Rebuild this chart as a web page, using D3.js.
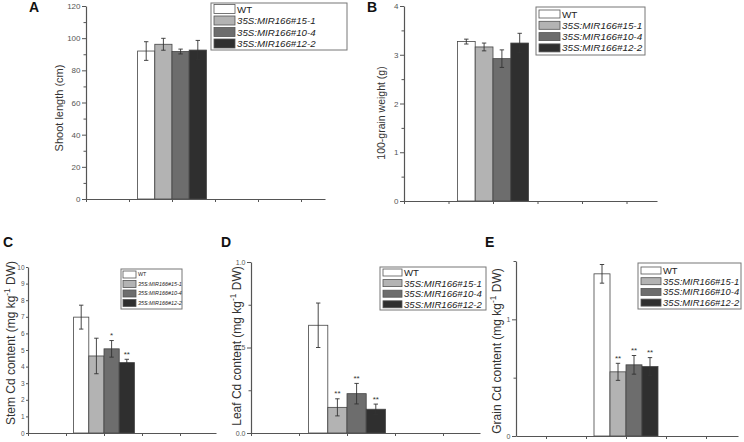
<!DOCTYPE html>
<html>
<head>
<meta charset="utf-8">
<script src="https://cdn.jsdelivr.net/npm/d3@7"></script>
<style>
  body { margin: 0; background: #fff; }
  svg { display: block; font-family: "Liberation Sans", Arial, sans-serif; }
</style>
</head>
<body>
<svg id="fig" width="744" height="442"></svg>
<script>
// lines shown in every panel
const lines = ["WT", "35S:MIR166#15-1", "35S:MIR166#10-4", "35S:MIR166#12-2"];

// A - shoot length (cm)
const shootLength = [92, 96.2, 91.7, 92.6];
const shootLengthErr = [5.8, 3.7, 1.5, 6];
// B - 100-grain weight (g)
const grainWeight = [3.27, 3.16, 2.92, 3.24];
const grainWeightErr = [0.05, 0.08, 0.18, 0.2];
// C - stem Cd content
const stemCd = [6.98, 4.64, 5.07, 4.24];
const stemCdErr = [0.72, 1.07, 0.5, 0.2];
const stemSig = ["", "", "*", "**"];
// D - leaf Cd content
const leafCd = [0.63, 0.15, 0.23, 0.139];
const leafCdErr = [0.13, 0.05, 0.06, 0.03];
const leafSig = ["", "**", "**", "**"];
// E - grain Cd content
const grainCd = [1.39, 0.55, 0.61, 0.595];
const grainCdErr = [0.08, 0.073, 0.08, 0.077];
const grainSig = ["", "**", "**", "**"];

const fills = ["#ffffff", "#b3b3b3", "#6d6d6d", "#2f2f2f"];
const axisColor = "#555";

const panels = [
  { letter: "A", lx: 29, ly: 12, title: "Shoot length (cm)", sup: false, tx: 63, ty: 108, tsize: 11,
    values: shootLength, errors: shootLengthErr, sig: null,
    yMax: 120, major: 20, minor: 10, fmt: d3.format("d"), tickFont: 8, tickLen: 4,
    x0: 86, x1: 325, unit: 43, tick0: 0, center: 2, yTop: 6, yBot: 199,
    legend: { x: 211, y: 3, w: 136, h: 47, sx: 214, sw: 21, sh: 9, r0: 4.5, dy: 11.5, font: 9.7 } },
  { letter: "B", lx: 367, ly: 12, title: "100-grain weight (g)", sup: false, tx: 385, ty: 113, tsize: 10.5,
    values: grainWeight, errors: grainWeightErr, sig: null,
    yMax: 4, major: 1, minor: 0.5, fmt: d3.format("d"), tickFont: 8, tickLen: 4,
    x0: 404, x1: 657, unit: 44.5, tick0: 0, center: 2, yTop: 6, yBot: 201,
    legend: { x: 536, y: 7, w: 109, h: 48, sx: 539, sw: 21, sh: 8, r0: 10, dy: 11.3, font: 9.9 } },
  { letter: "C", lx: 3, ly: 247, title: "Stem Cd content (mg kg", sup: true, tx: 15, ty: 343, tsize: 12,
    values: stemCd, errors: stemCdErr, sig: stemSig,
    yMax: 10, major: 1, minor: null, fmt: d3.format("d"), tickFont: 6.5, tickLen: 2,
    x0: 28, x1: 216, unit: 38, tick0: 0, center: 2, yTop: 267, yBot: 433,
    legend: { x: 121, y: 269, w: 61, h: 40, sx: 123, sw: 13, sh: 7, r0: 271, dy: 9.5, font: 5.4 } },
  { letter: "D", lx: 221, ly: 247, title: "Leaf Cd content (mg kg", sup: true, tx: 241, ty: 346, tsize: 12,
    values: leafCd, errors: leafCdErr, sig: leafSig,
    yMax: 1, major: 0.5, minor: 0.25, fmt: d3.format(".1f"), tickFont: 7, tickLen: 4,
    x0: 251, x1: 480, unit: 48, tick0: 0, center: 2, yTop: 262, yBot: 433,
    legend: { x: 380, y: 267, w: 106, h: 43, sx: 383, sw: 19, sh: 7, r0: 269, dy: 10.6, font: 9.6 } },
  { letter: "E", lx: 485, ly: 247, title: "Grain Cd content (mg kg", sup: true, tx: 501, ty: 351, tsize: 12,
    values: grainCd, errors: grainCdErr, sig: grainSig,
    yMax: 1.5, major: 1, minor: 0.5, fmt: d3.format("d"), tickFont: 7, tickLen: 4,
    x0: 516, x1: 738, unit: 40, tick0: 0.75, center: 2.75, yTop: 261, yBot: 436,
    legend: { x: 638, y: 263, w: 103, h: 46, sx: 641, sw: 20, sh: 7, r0: 267, dy: 10.7, font: 9.4 } }
];

const svg = d3.select("#fig");

function styleAxis(sel) {
  sel.select(".domain").attr("stroke", axisColor).attr("stroke-width", 1.2);
  sel.selectAll(".tick line").attr("stroke", axisColor).attr("stroke-width", 1);
  sel.selectAll(".tick text").attr("fill", "#555");
}

panels.forEach(p => {
  const g = svg.append("g");
  const x = d3.scaleLinear().domain([0, (p.x1 - p.x0) / p.unit]).range([p.x0, p.x1]);
  const y = d3.scaleLinear().domain([0, p.yMax]).range([p.yBot, p.yTop]);
  const bw = 0.4;
  const barX = i => x(p.center + (i - 2) * bw);
  const barMid = i => x(p.center + (i - 1.5) * bw);

  // bars
  g.selectAll("rect.bar").data(p.values).join("rect")
    .attr("class", "bar")
    .attr("x", (d, i) => barX(i))
    .attr("width", x(bw) - x(0))
    .attr("y", d => y(d))
    .attr("height", d => y(0) - y(d))
    .attr("fill", (d, i) => fills[i])
    .attr("stroke", "#444")
    .attr("stroke-width", 0.8);

  // error bars
  const cap = 2.2;
  const eg = g.selectAll("g.err").data(p.values).join("g").attr("class", "err")
    .attr("stroke", "#333").attr("stroke-width", 0.9);
  eg.append("line")
    .attr("x1", (d, i) => barMid(i)).attr("x2", (d, i) => barMid(i))
    .attr("y1", (d, i) => y(d + p.errors[i])).attr("y2", (d, i) => y(d - p.errors[i]));
  eg.append("line")
    .attr("x1", (d, i) => barMid(i) - cap).attr("x2", (d, i) => barMid(i) + cap)
    .attr("y1", (d, i) => y(d + p.errors[i])).attr("y2", (d, i) => y(d + p.errors[i]));
  eg.append("line")
    .attr("x1", (d, i) => barMid(i) - cap).attr("x2", (d, i) => barMid(i) + cap)
    .attr("y1", (d, i) => y(d - p.errors[i])).attr("y2", (d, i) => y(d - p.errors[i]));

  // significance marks
  if (p.sig) {
    g.selectAll("text.sig").data(p.values).join("text")
      .attr("class", "sig")
      .attr("x", (d, i) => barMid(i))
      .attr("y", (d, i) => y(d + p.errors[i]) - 2.5)
      .attr("text-anchor", "middle")
      .attr("font-size", 8)
      .attr("fill", "#333")
      .text((d, i) => p.sig[i]);
  }

  // y axis
  const majors = d3.range(0, p.yMax + 1e-9, p.major);
  const ya = g.append("g").attr("transform", `translate(${p.x0},0)`)
    .call(d3.axisLeft(y).tickValues(majors).tickFormat(p.fmt).tickSize(p.tickLen).tickSizeOuter(0).tickPadding(1.5));
  ya.selectAll(".tick text").attr("font-size", p.tickFont);
  styleAxis(ya);
  if (p.minor) {
    const minors = d3.range(0, p.yMax + 1e-9, p.minor)
      .filter(v => Math.abs(v / p.major - Math.round(v / p.major)) > 1e-6);
    const ym = g.append("g").attr("transform", `translate(${p.x0},0)`)
      .call(d3.axisLeft(y).tickValues(minors).tickFormat("").tickSize(2.5).tickSizeOuter(0));
    ym.select(".domain").remove();
    styleAxis(ym);
  }

  // x axis
  const xTicks = d3.range(p.tick0, x.domain()[1], 1);
  const xa = g.append("g").attr("transform", `translate(0,${p.yBot})`)
    .call(d3.axisBottom(x).tickValues(xTicks).tickFormat("").tickSize(3).tickSizeOuter(0));
  styleAxis(xa);

  // axis title
  const t = g.append("text")
    .attr("transform", `translate(${p.tx},${p.ty}) rotate(-90)`)
    .attr("text-anchor", "middle")
    .attr("font-size", p.tsize)
    .attr("fill", "#333");
  t.append("tspan").text(p.title);
  if (p.sup) {
    t.append("tspan").attr("font-size", p.tsize * 0.7).attr("dy", -p.tsize * 0.45).text("-1");
    t.append("tspan").attr("dy", p.tsize * 0.45).text(" DW)");
  }

  // panel letter
  g.append("text").attr("x", p.lx).attr("y", p.ly)
    .attr("font-size", 14).attr("font-weight", "bold").attr("fill", "#111")
    .text(p.letter);

  // legend
  const L = p.legend;
  const lg = g.append("g");
  lg.append("rect").attr("x", L.x).attr("y", L.y).attr("width", L.w).attr("height", L.h)
    .attr("fill", "#fff").attr("stroke", "#777").attr("stroke-width", 1);
  const rows = lg.selectAll("g.row").data(lines).join("g").attr("class", "row")
    .attr("transform", (d, i) => `translate(0,${L.r0 + i * L.dy})`);
  rows.append("rect").attr("x", L.sx).attr("y", 0).attr("width", L.sw).attr("height", L.sh)
    .attr("fill", (d, i) => fills[i]).attr("stroke", "#555").attr("stroke-width", 0.8);
  rows.append("text")
    .attr("x", L.sx + L.sw + 2)
    .attr("y", L.sh / 2 + L.font * 0.36)
    .attr("font-size", L.font)
    .attr("font-style", (d, i) => i === 0 ? "normal" : "italic")
    .attr("fill", "#222")
    .text(d => d);
});
</script>
</body>
</html>
